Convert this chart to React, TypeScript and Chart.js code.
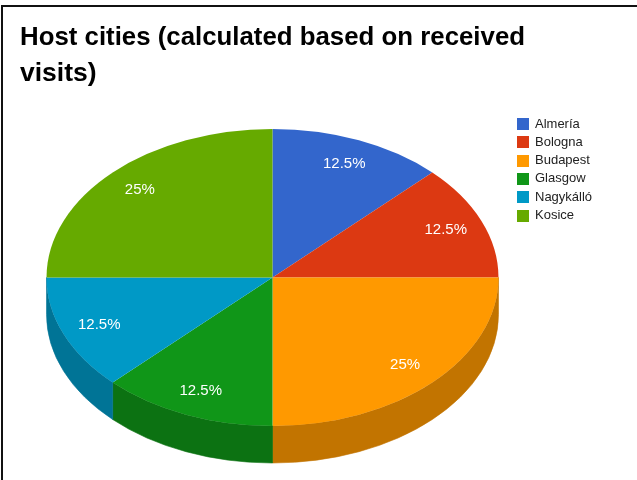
import React, { useEffect, useRef } from "react";
import { Chart, registerables } from "chart.js";

Chart.register(...registerables);

const titleLines = ["Host cities (calculated based on received", "visits)"];
const cities = ["Almería", "Bologna", "Budapest", "Glasgow", "Nagykálló", "Kosice"];
const visits = [1, 1, 2, 1, 1, 2];
const colors = ["#3366cc", "#dc3912", "#ff9900", "#109618", "#0099c6", "#66aa00"];

// 3D look
const TILT = 0.657; // ry / rx
const DEPTH_RATIO = 0.164; // depth / rx
const SIDE_SHADE = 0.76;
const LABEL_FRACTION = 0.83;

// legend style
const LEGEND_X = 517;
const LEGEND_Y0 = 124;
const LEGEND_ROW = 18.3;
const LEGEND_BOX = 12;
const LEGEND_TEXT_X = 535;
const LEGEND_FONT = "13px 'Liberation Sans', Arial, sans-serif";

function shade(hex: string, f: number) {
  const n = parseInt(hex.slice(1), 16);
  const r = Math.round(((n >> 16) & 255) * f);
  const g = Math.round(((n >> 8) & 255) * f);
  const b = Math.round((n & 255) * f);
  return `rgb(${r},${g},${b})`;
}

function geometry(chart: any) {
  const ca = chart.chartArea;
  const w = ca.right - ca.left;
  const h = ca.bottom - ca.top;
  const rx = Math.min(w / 2, h / (2 * TILT + DEPTH_RATIO));
  const ry = rx * TILT;
  const depth = rx * DEPTH_RATIO;
  const cx = (ca.left + ca.right) / 2;
  const cy = ca.top + ry;
  return { cx, cy, rx, ry, depth };
}

const pie3d = {
  id: "pie3d",
  beforeDatasetsDraw(chart: any) {
    const meta = chart.getDatasetMeta(0);
    const arcs = meta.data;
    if (!arcs.length) return;
    const ctx = chart.ctx;
    const { cx, cy, rx, ry, depth } = geometry(chart);
    const bg = chart.data.datasets[0].backgroundColor as string[];
    // side walls (visible lower half: angles 0..PI)
    arcs.forEach((arc: any, i: number) => {
      const { startAngle, endAngle } = arc.getProps(["startAngle", "endAngle"], true);
      for (const base of [0, 2 * Math.PI, -2 * Math.PI]) {
        const s = Math.max(startAngle, base);
        const e = Math.min(endAngle, base + Math.PI);
        if (e <= s) continue;
        ctx.save();
        ctx.beginPath();
        ctx.moveTo(cx + rx * Math.cos(s), cy + ry * Math.sin(s));
        ctx.ellipse(cx, cy, rx, ry, 0, s, e, false);
        ctx.lineTo(cx + rx * Math.cos(e), cy + depth + ry * Math.sin(e));
        ctx.ellipse(cx, cy + depth, rx, ry, 0, e, s, true);
        ctx.closePath();
        ctx.fillStyle = shade(bg[i], SIDE_SHADE);
        ctx.strokeStyle = shade(bg[i], SIDE_SHADE);
        ctx.lineWidth = 0.6;
        ctx.fill();
        ctx.stroke();
        ctx.restore();
      }
    });
    // squash the library's circle into the top ellipse
    const a0 = arcs[0];
    const r = a0.outerRadius;
    ctx.save();
    ctx.translate(cx, cy);
    ctx.scale(rx / r, ry / r);
    ctx.translate(-a0.x, -a0.y);
  },
  afterDatasetsDraw(chart: any) {
    const meta = chart.getDatasetMeta(0);
    const arcs = meta.data;
    if (!arcs.length) return;
    const ctx = chart.ctx;
    ctx.restore();
    const { cx, cy, rx, ry } = geometry(chart);
    const data = chart.data.datasets[0].data as number[];
    const total = data.reduce((a, b) => a + b, 0);
    ctx.save();
    ctx.fillStyle = "#ffffff";
    ctx.font = "15px 'Liberation Sans', Arial, sans-serif";
    ctx.textAlign = "center";
    ctx.textBaseline = "middle";
    arcs.forEach((arc: any, i: number) => {
      const { startAngle, endAngle } = arc.getProps(["startAngle", "endAngle"], true);
      const mid = (startAngle + endAngle) / 2;
      const pct = +((data[i] / total) * 100).toFixed(1);
      ctx.fillText(
        `${pct}%`,
        cx + LABEL_FRACTION * rx * Math.cos(mid),
        cy + LABEL_FRACTION * ry * Math.sin(mid)
      );
    });
    ctx.restore();
  },
  afterDraw(chart: any) {
    const ctx = chart.ctx;
    const labels = chart.data.labels as string[];
    const bg = chart.data.datasets[0].backgroundColor as string[];
    ctx.save();
    ctx.font = LEGEND_FONT;
    ctx.textBaseline = "middle";
    ctx.textAlign = "left";
    labels.forEach((lab, i) => {
      const y = LEGEND_Y0 + i * LEGEND_ROW;
      ctx.fillStyle = bg[i];
      ctx.fillRect(LEGEND_X, Math.round(y - LEGEND_BOX / 2), LEGEND_BOX, LEGEND_BOX);
      ctx.fillStyle = "#222222";
      ctx.fillText(lab, LEGEND_TEXT_X, y);
    });
    ctx.restore();
  },
};

export default function App() {
  const ref = useRef<HTMLCanvasElement>(null);
  useEffect(() => {
    if (!ref.current) return;
    const chart = new Chart(ref.current, {
      type: "pie",
      data: {
        labels: cities,
        datasets: [
          {
            data: visits,
            backgroundColor: colors,
            borderWidth: 0,
            clip: false,
          } as any,
        ],
      },
      options: {
        responsive: false,
        animation: false,
        devicePixelRatio: 1,
        events: [],
        layout: { padding: { left: 20, right: 112, top: 0, bottom: 17 } },
        plugins: {
          legend: { display: false },
          tooltip: { enabled: false },
          title: {
            display: true,
            text: titleLines,
            align: "start",
            color: "#000000",
            font: {
              family: "'Liberation Sans', Arial, sans-serif",
              size: 26.5,
              weight: "bold",
              lineHeight: 36 / 26.5,
            },
            padding: { top: 20, bottom: 37 },
          },
        },
      },
      plugins: [pie3d],
    });
    return () => chart.destroy();
  }, []);
  return (
    <div style={{ position: "absolute", left: 0, top: 0, width: 637, height: 480, background: "#fff", overflow: "hidden" }}>
      <div
        style={{
          position: "absolute",
          left: 1,
          top: 5,
          width: 636,
          height: 475,
          borderTop: "2px solid #111",
          borderLeft: "2px solid #111",
          boxSizing: "border-box",
        }}
      />
      <canvas ref={ref} width={637} height={480} style={{ position: "absolute", left: 0, top: 0 }} />
    </div>
  );
}
